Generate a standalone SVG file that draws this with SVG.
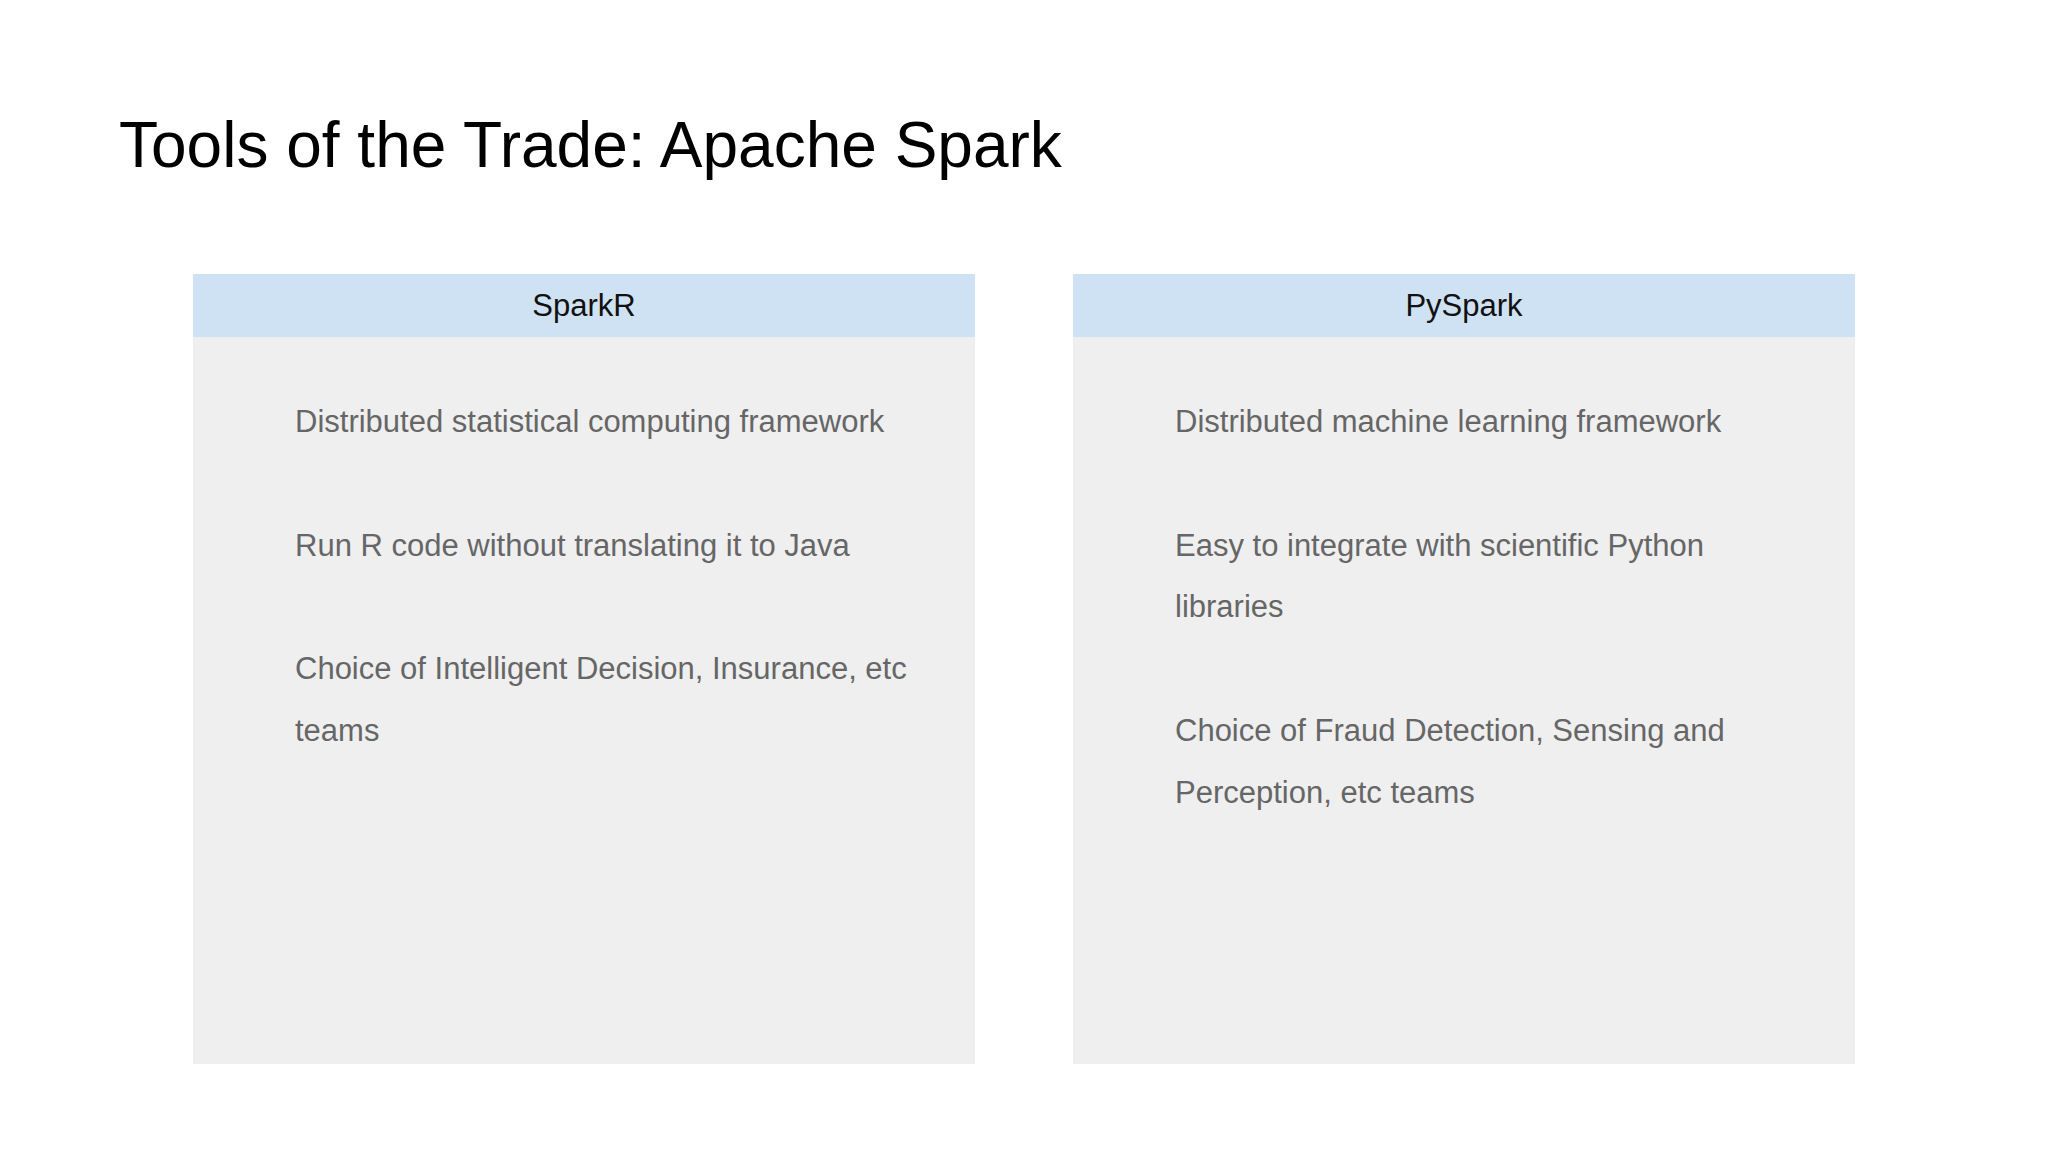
<svg xmlns="http://www.w3.org/2000/svg" width="2048" height="1152" viewBox="0 0 2048 1152">
<style>
.hd{fill:#cfe2f3}.bd{fill:#efeff0}
.ht{font-family:"Liberation Sans",Arial,sans-serif;font-size:31px;fill:#111;text-anchor:middle}
.tx{font-family:"Liberation Sans",Arial,sans-serif;font-size:31px;fill:#666}
</style>
<rect width="2048" height="1152" fill="#fff"/>
<text x="119" y="167" font-family="Liberation Sans, Arial, sans-serif" font-size="64" fill="#000">Tools of the Trade: Apache Spark</text>
<g id="sparkr">
<rect class="bd" x="193" y="274" width="782" height="790"/>
<rect class="hd" x="193" y="274" width="782" height="63"/>
<text class="ht" x="584" y="316">SparkR</text>
<text class="tx" x="295" y="432">Distributed statistical computing framework</text>
<text class="tx" x="295" y="556">Run R code without translating it to Java</text>
<text class="tx" x="295" y="679">Choice of Intelligent Decision, Insurance, etc</text>
<text class="tx" x="295" y="741">teams</text>
</g>
<g id="pyspark">
<rect class="bd" x="1073" y="274" width="782" height="790"/>
<rect class="hd" x="1073" y="274" width="782" height="63"/>
<text class="ht" x="1464" y="316">PySpark</text>
<text class="tx" x="1175" y="432">Distributed machine learning framework</text>
<text class="tx" x="1175" y="556">Easy to integrate with scientific Python</text>
<text class="tx" x="1175" y="617">libraries</text>
<text class="tx" x="1175" y="741">Choice of Fraud Detection, Sensing and</text>
<text class="tx" x="1175" y="803">Perception, etc teams</text>
</g>
<g id="connectors"/>
</svg>
